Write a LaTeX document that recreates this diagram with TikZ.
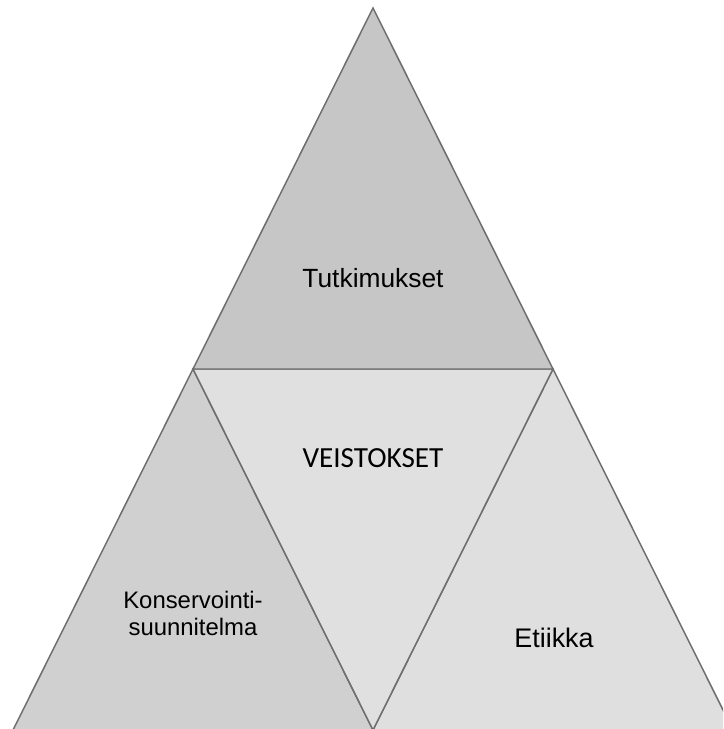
\documentclass[tikz,border=0pt]{standalone}
\usepackage{fontspec}
\setmainfont{Liberation Sans}
\newfontfamily\calibrifont{Carlito}
\usepackage{xcolor}
\definecolor{topgray}{HTML}{C6C6C6}
\definecolor{leftgray}{HTML}{D0D0D0}
\definecolor{midgray}{HTML}{E0E0E0}
\definecolor{rightgray}{HTML}{DFDFDF}
\definecolor{edgegray}{HTML}{6E6E6E}

\begin{document}
\begin{tikzpicture}[x=0.02cm, y=-0.02cm]
		\tikzset{piece/.style = {draw=edgegray, line width=0.85pt, line join=miter}}
		\tikzset{label/.style = {anchor=base, inner sep=0pt, text=black}}

		\useasboundingbox (0,0) rectangle (723,729);

		\coordinate (T) at (373,8);
		\coordinate (L) at (193,369);
		\coordinate (R) at (553,369);
		\coordinate (BL) at (13,730);
		\coordinate (BM) at (373,730);
		\coordinate (BR) at (733,730);

		\begin{scope}
		\clip (0,0) rectangle (723,729);
		\filldraw[piece, fill=leftgray] (L) -- (BM) -- (BL) -- cycle;
		\filldraw[piece, fill=rightgray] (R) -- (BR) -- (BM) -- cycle;
		\filldraw[piece, fill=midgray] (L) -- (R) -- (BM) -- cycle;
		\filldraw[piece, fill=topgray] (T) -- (R) -- (L) -- cycle;
		\end{scope}

		\node[label, font=\fontsize{15}{18}\selectfont] (tutk) at (373,287) {Tutkimukset};
		\node[label, font=\calibrifont\fontsize{16.6}{20}\selectfont] (veis) at (373,467) {VEISTOKSET};
		\node[label, font=\fontsize{15.3}{18}\selectfont] (etii) at (554,647) {Etiikka};
		\node[label, font=\fontsize{13.6}{15.3}\selectfont, align=center] (kons) at (193,635) {Konservointi-\\suunnitelma};

	\end{tikzpicture}
\end{document}
